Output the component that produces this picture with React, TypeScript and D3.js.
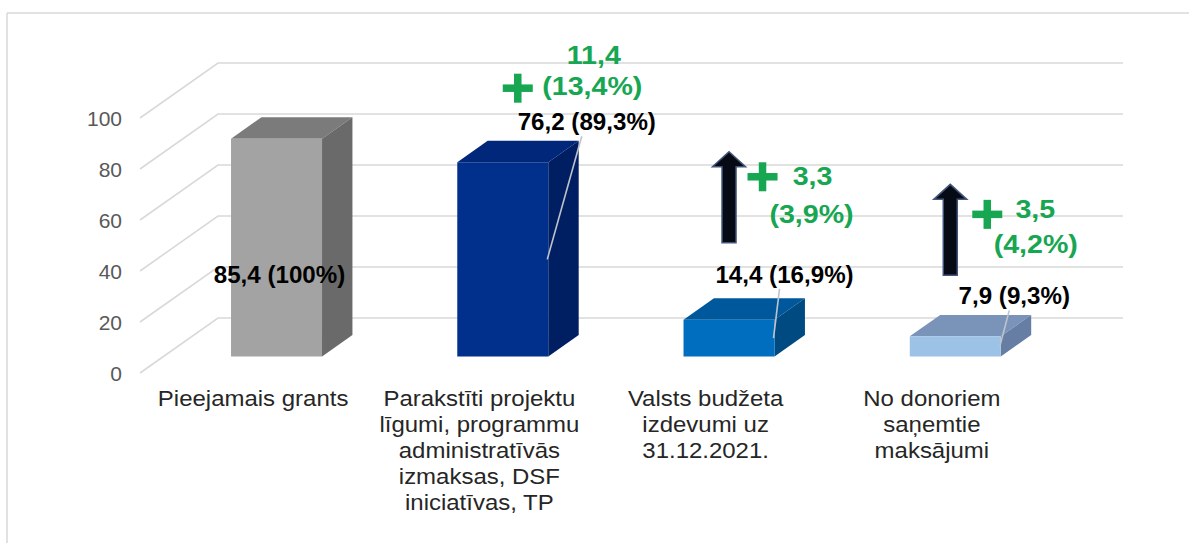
import React from "react";
import * as d3 from "d3";

const categories = [
  ["Pieejamais grants"],
  ["Parakstīti projektu", "līgumi, programmu", "administratīvās", "izmaksas, DSF", "iniciatīvas, TP"],
  ["Valsts budžeta", "izdevumi uz", "31.12.2021."],
  ["No donoriem", "saņemtie", "maksājumi"],
];
const values = [85.4, 76.2, 14.4, 7.9];
const shares = ["100%", "89,3%", "16,9%", "9,3%"];
const increases = [null, 11.4, 3.3, 3.5];
const increaseShares = [null, "13,4%", "3,9%", "4,2%"];
const yTicks = [0, 20, 40, 60, 80, 100];

// bar colours: front, top, side
const barColors = [
  ["#a3a3a3", "#7b7b7b", "#6a6a6a"],
  ["#00308c", "#00277a", "#001f63"],
  ["#006ebe", "#00589c", "#004a82"],
  ["#9cc2e6", "#7a93b8", "#667ea3"],
];

// label placement relative to the top centre of each bar's front face
const labelOffset = [[3, 136], [84, -40], [55.5, -45], [59, -40]];
const leader = [false, true, true, true];
const plusOffset = [null, [15, -74], [33.5, -143], [32, -122]];
const incValueOffset = [null, [91, -107], [83.5, -144], [80, -127]];
const incShareOffset = [null, [89.5, -76], [82.5, -106], [80.5, -92]];
const arrowOffset = [null, null, [0, -168, -77], [-5, -152, -61]];

const W = 1189;
const H = 543;
const depth = { dx: 78, dy: -55 };
const barDepth = [0.3, 0.69];
const barW = 91;
const font = "'Liberation Sans', Arial, sans-serif";

const fmt = (v: number) => d3.format(".1f")(v).replace(".", ",");

const T = ({ x, y, sx = 1, anchor = "middle", size, weight = "normal", fill, children }: any) => (
  <text
    transform={`translate(${x},${y}) scale(${sx},1)`}
    textAnchor={anchor}
    dy="0.35em"
    fontFamily={font}
    fontSize={size}
    fontWeight={weight}
    fill={fill}
  >
    {children}
  </text>
);

export default function App() {
  const x = d3
    .scaleBand<number>()
    .domain(d3.range(categories.length))
    .range([140, 140 + 905])
    .padding(0);
  const y = d3.scaleLinear().domain([0, 100]).range([373, 118]);

  const proj = (px: number, v: number, f: number): [number, number] => [
    px + depth.dx * f,
    y(v) + depth.dy * f,
  ];
  const poly = (pts: [number, number][]) => pts.map((p) => p.join(",")).join(" ");

  const green = "#17a651";

  return (
    <svg
      width={W}
      height={H}
      style={{ position: "absolute", left: 0, top: 0, background: "#fff" }}
    >
      {/* outer frame */}
      <line x1={7} y1={13} x2={W} y2={13} stroke="#d9d9d9" strokeWidth={1.5} />
      <line x1={7} y1={13} x2={7} y2={H} stroke="#d9d9d9" strokeWidth={1.5} />

      {/* gridlines on side wall and back wall */}
      {yTicks.map((t) => {
        const [fx, fy] = proj(x.range()[0], t, 0);
        const [bx, by] = proj(x.range()[0], t, 1);
        const [ex] = proj(x.range()[1], t, 1);
        return (
          <g key={t}>
            <polyline
              points={poly([[fx, fy], [bx, by], [ex, by]])}
              fill="none"
              stroke="#d9d9d9"
              strokeWidth={1.6}
            />
            <T x={122} y={fy + 1} anchor="end" size={21} fill="#595959">
              {t}
            </T>
          </g>
        );
      })}

      {/* bars */}
      {values.map((v, i) => {
        const x0 = x(i)! + (x.bandwidth() - barW) / 2;
        const x1 = x0 + barW;
        const [f0, f1] = barDepth;
        const [c0, c1, c2] = barColors[i];
        return (
          <g key={i}>
            <polygon
              points={poly([proj(x0, v, f0), proj(x1, v, f0), proj(x1, v, f1), proj(x0, v, f1)])}
              fill={c1}
            />
            <polygon
              points={poly([proj(x1, 0, f0), proj(x1, v, f0), proj(x1, v, f1), proj(x1, 0, f1)])}
              fill={c2}
            />
            <polygon
              points={poly([proj(x0, 0, f0), proj(x1, 0, f0), proj(x1, v, f0), proj(x0, v, f0)])}
              fill={c0}
            />
          </g>
        );
      })}

      {/* category labels */}
      {categories.map((lines, i) => (
        <g key={i}>
          {lines.map((l, j) => (
            <T key={j} x={x(i)! + x.bandwidth() / 2} y={398 + j * 26} sx={1.09} size={22} fill="#262626">
              {l}
            </T>
          ))}
        </g>
      ))}

      {/* value labels, leaders, increases */}
      {values.map((v, i) => {
        const x0 = x(i)! + (x.bandwidth() - barW) / 2;
        const [fl, ft] = proj(x0, v, barDepth[0]);
        const cx = fl + barW / 2;
        const [lx, ly] = [cx + labelOffset[i][0], ft + labelOffset[i][1]];
        const midY = (ft + proj(x0, 0, barDepth[0])[1]) / 2;
        const inc = increases[i];
        const po = plusOffset[i];
        const vo = incValueOffset[i];
        const so = incShareOffset[i];
        const ao = arrowOffset[i];
        return (
          <g key={i}>
            {ao && (() => {
              const ax = cx + ao[0];
              const tip = ft + ao[1];
              const bot = ft + ao[2];
              const hw = 16.5;
              const sw = 7;
              const hh = 15;
              return (
                <path
                  d={`M${ax - sw},${bot}L${ax - sw},${tip + hh}L${ax - hw},${tip + hh}L${ax},${tip}L${ax + hw},${tip + hh}L${ax + sw},${tip + hh}L${ax + sw},${bot}Z`}
                  fill="#060a14"
                  stroke="#44557a"
                  strokeWidth={1.5}
                />
              );
            })()}
            {leader[i] && (
              <line
                x1={lx - 5}
                y1={ly + 14}
                x2={fl + barW - 1}
                y2={midY}
                stroke="#bfc3cc"
                strokeWidth={1.6}
              />
            )}
            <T x={lx} y={ly} sx={1.05} size={23} weight="bold" fill="#000">
              {`${fmt(v)} (${shares[i]})`}
            </T>
            {inc !== null && po && vo && so && (
              <g>
                <rect x={cx + po[0] - 15} y={ft + po[1] - 3.75} width={30} height={7.5} fill={green} />
                <rect x={cx + po[0] - 3.75} y={ft + po[1] - 14.5} width={7.5} height={29} fill={green} />
                <T x={cx + vo[0]} y={ft + vo[1]} sx={1.1} size={26} weight="bold" fill={green}>
                  {fmt(inc)}
                </T>
                <T x={cx + so[0]} y={ft + so[1]} sx={1.1} size={26} weight="bold" fill={green}>
                  {`(${increaseShares[i]})`}
                </T>
              </g>
            )}
          </g>
        );
      })}
    </svg>
  );
}
